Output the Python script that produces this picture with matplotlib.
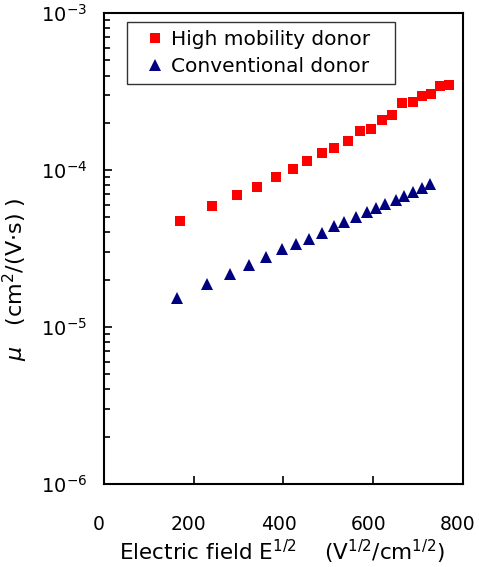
import numpy as np
import matplotlib
matplotlib.use('Agg')
import matplotlib.pyplot as plt
import matplotlib.transforms as mtransforms
from matplotlib.ticker import LogLocator, FixedLocator

plt.rcParams['font.family'] = ['DejaVu Sans', 'Noto Sans CJK JP']
plt.rcParams['mathtext.fontset'] = 'dejavusans'

# Dati
campo_alta = [169, 241, 297, 342, 383, 421, 453, 486, 513, 544,
              570, 595, 619, 642, 665, 688, 709, 729, 749, 769]
mob_alta = [4.74e-5, 5.86e-5, 6.92e-5, 7.82e-5, 9.06e-5, 1.02e-4, 1.14e-4, 1.28e-4, 1.38e-4, 1.52e-4,
            1.77e-4, 1.83e-4, 2.08e-4, 2.24e-4, 2.67e-4, 2.71e-4, 2.98e-4, 3.05e-4, 3.41e-4, 3.48e-4]

campo_conv = [162, 229, 281, 324, 362, 397, 428, 457, 486, 512,
              535, 562, 586, 606, 627, 650, 668, 688, 709, 726]
mob_conv = [1.52e-5, 1.88e-5, 2.19e-5, 2.50e-5, 2.81e-5, 3.16e-5, 3.40e-5, 3.62e-5, 3.98e-5, 4.37e-5,
            4.65e-5, 5.01e-5, 5.41e-5, 5.72e-5, 6.09e-5, 6.43e-5, 6.82e-5, 7.20e-5, 7.64e-5, 8.10e-5]

etichette = ['High mobility donor', 'Conventional donor']

fig = plt.figure(figsize=(4.79, 5.67), dpi=100)
ax = fig.add_axes([0.2171, 0.1464, 0.7495, 0.8306])

ax.semilogy(campo_alta, mob_alta, 's', color='#ff0000', markersize=7.5,
            markeredgewidth=0, label=etichette[0])
ax.semilogy(campo_conv, mob_conv, '^', color='#000080', markersize=9,
            markeredgewidth=0, label=etichette[1])

ax.set_xlim(0, 800)
ax.set_ylim(1e-6, 1e-3)
ax.xaxis.set_major_locator(FixedLocator([0, 200, 400, 600, 800]))
ax.yaxis.set_major_locator(LogLocator(base=10, numticks=10))
ax.yaxis.set_minor_locator(LogLocator(base=10, subs=np.arange(2, 10), numticks=10))

ax.tick_params(axis='both', which='both', direction='in', top=False, right=False,
               width=1.2, colors='black')
ax.tick_params(axis='x', which='major', length=6, pad=22, labelsize=13.5)
ax.tick_params(axis='y', which='major', length=6, pad=12, labelsize=14)
ax.tick_params(axis='y', which='minor', length=4)
for s in ax.spines.values():
    s.set_linewidth(1.5)

# etichette dell'asse x spostate un po' a sinistra come nell'originale
sposta = mtransforms.ScaledTranslation(-5 / 100, 0, fig.dpi_scale_trans)
for lab in ax.get_xticklabels():
    lab.set_transform(lab.get_transform() + sposta)

ax.set_xlabel(r'Electric field E$^{1/2}$    (V$^{1/2}$/cm$^{1/2}$)', fontsize=15.5)
ax.xaxis.set_label_coords(0.495, -0.115)
ax.set_ylabel(r'$\mu$   (cm$^2$/(V$\cdot$s) )', fontsize=16)
ax.yaxis.set_label_coords(-0.205, 0.435)

leg = ax.legend(loc='upper left', bbox_to_anchor=(0.064, 0.0, 0.7465, 0.981), mode='expand',
                fontsize=14.5, frameon=True, fancybox=False, edgecolor='black',
                handletextpad=-0.2, handlelength=2.0, borderpad=0.4, labelspacing=0.4,
                borderaxespad=0)
leg.get_frame().set_linewidth(1.0)

plt.savefig('out.png', dpi=100)
